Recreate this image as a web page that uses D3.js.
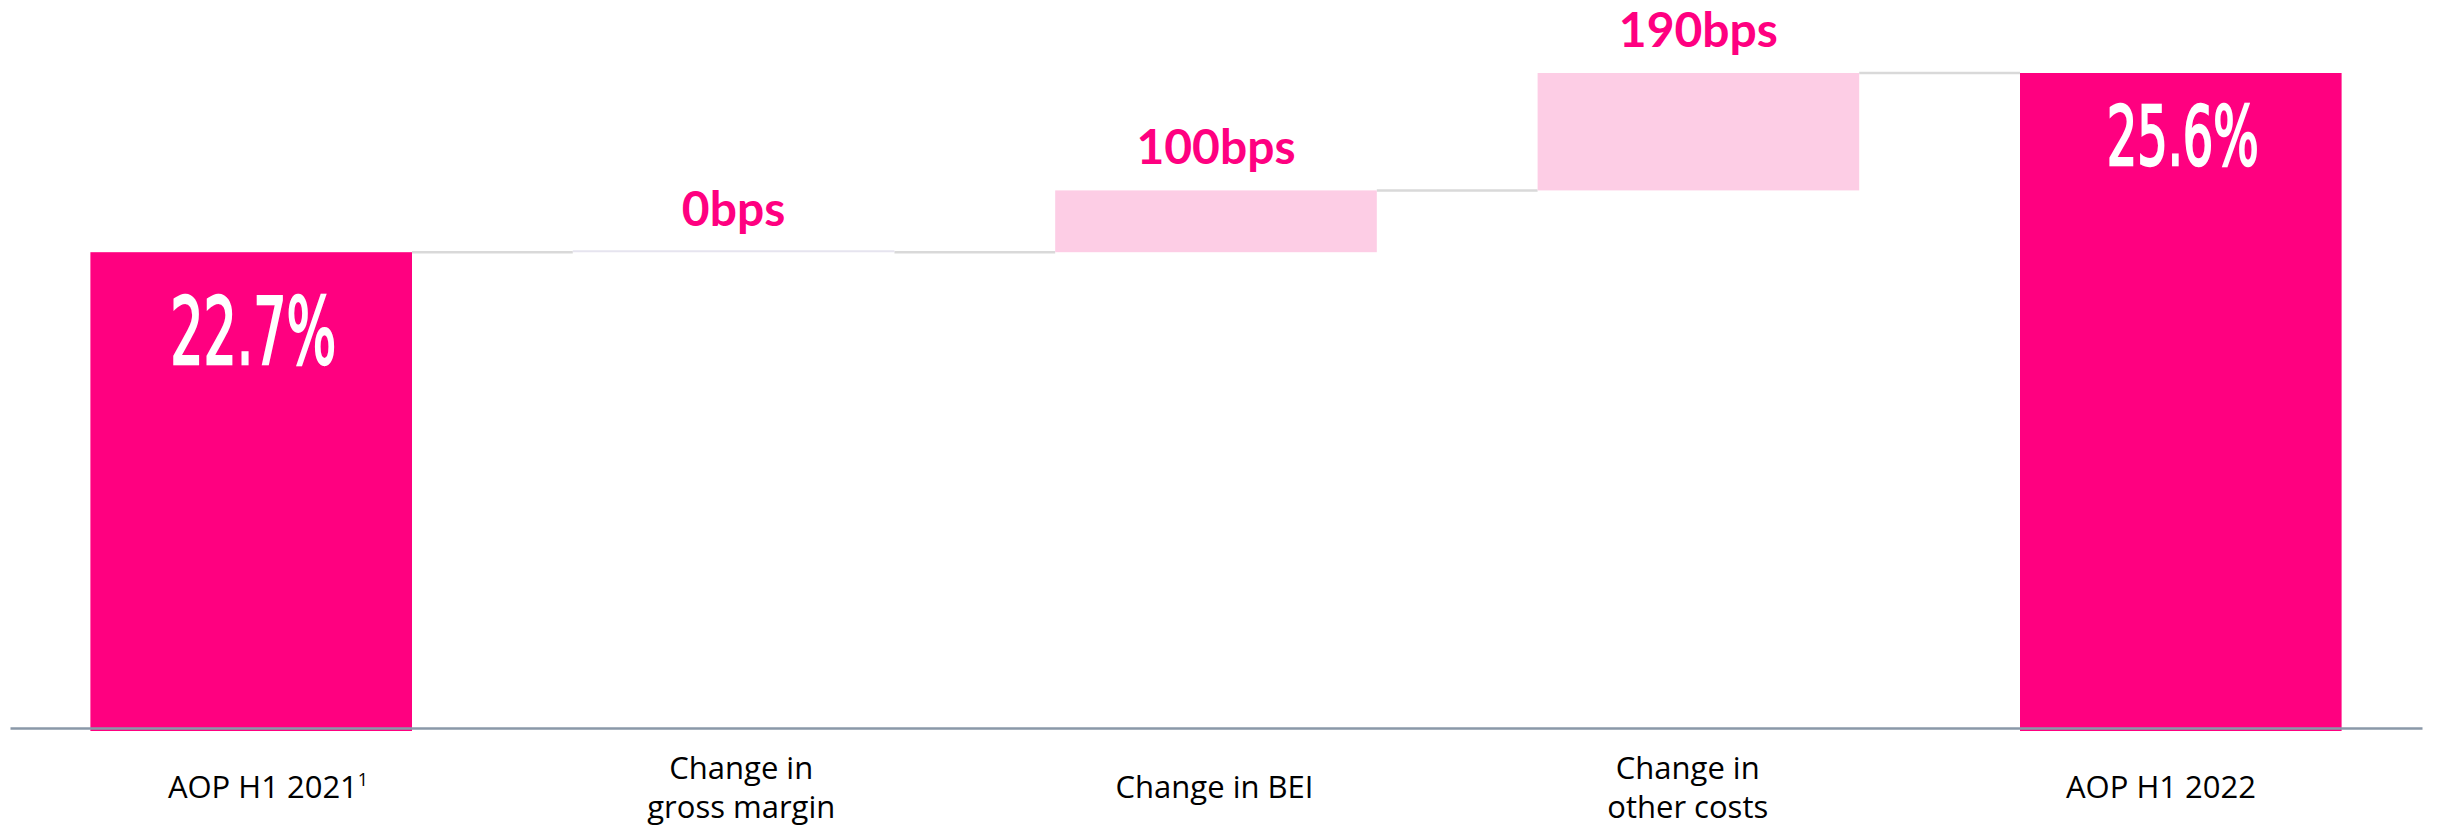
<!DOCTYPE html>
<html>
<head>
<meta charset="utf-8">
<script src="https://cdn.jsdelivr.net/npm/d3@7"></script>
<style>
  html, body { margin: 0; padding: 0; background: #ffffff; }
  svg { display: block; }
</style>
</head>
<body>
<svg id="chart" width="2438" height="826"></svg>
<script>
// Operating margin bridge, H1 2021 -> H1 2022
const categories = ["AOP H1 2021", "Change in gross margin", "Change in BEI", "Change in other costs", "AOP H1 2022"];
const categoryLines = [["AOP H1 2021"], ["Change in", "gross margin"], ["Change in BEI"], ["Change in", "other costs"], ["AOP H1 2022"]];
const categoryNotes = ["1", "", "", "", ""];
const stepKinds = ["total", "delta", "delta", "delta", "total"];
const stepValues = [22.7, 0.0, 1.0, 1.9, 25.6];   // % for totals, percentage points for deltas
const valueLabels = ["22.7%", "0bps", "100bps", "190bps", "25.6%"];
const axisFloor = 15;                               // value axis starts at 15%

// Build the running bridge (start/end level of each step)
let level = 0;
const steps = categories.map((c, i) => {
  let start, end;
  if (stepKinds[i] === "total") { start = axisFloor; end = stepValues[i]; level = stepValues[i]; }
  else { start = level; end = level + stepValues[i]; level = end; }
  return { cat: c, kind: stepKinds[i], start, end, lines: categoryLines[i], note: categoryNotes[i], label: valueLabels[i], i };
});

const svg = d3.select("#chart");
const MAGENTA = "#ff0080";
const LIGHT_PINK = "#fdcde5";

const x = d3.scaleBand()
  .domain(categories)
  .range([10, 2422])
  .paddingInner(1 / 3)
  .paddingOuter(1 / 6);

// Category captions sit in their own evenly spaced slots
const xLabel = d3.scalePoint()
  .domain(categories)
  .range([268, 2161]);

const y = d3.scaleLinear()
  .domain([axisFloor, 25.6])
  .range([728, 73]);

// Connectors between consecutive steps
const connectors = steps.slice(0, -1).map((s, i) => ({ from: s, to: steps[i + 1], v: s.end }));
svg.append("g").selectAll("line").data(connectors).join("line")
  .attr("x1", d => x(d.from.cat) + x.bandwidth())
  .attr("x2", d => x(d.to.cat))
  .attr("y1", d => y(d.v))
  .attr("y2", d => y(d.v))
  .attr("stroke", "#d9d9d9")
  .attr("stroke-width", 2.5);

// Bars
const bars = svg.append("g");
bars.selectAll("rect").data(steps).join("rect")
  .attr("x", d => x(d.cat))
  .attr("width", x.bandwidth())
  .attr("y", d => y(Math.max(d.start, d.end)))
  .attr("height", d => {
    const h = Math.abs(y(d.start) - y(d.end));
    return d.kind === "total" ? h + 3 : h;
  })
  .attr("fill", d => d.kind === "total" ? MAGENTA : LIGHT_PINK);

// Zero-size steps still show as a hairline
bars.selectAll("line.flat").data(steps.filter(d => d.kind === "delta" && d.start === d.end)).join("line")
  .attr("class", "flat")
  .attr("x1", d => x(d.cat))
  .attr("x2", d => x(d.cat) + x.bandwidth())
  .attr("y1", d => y(d.end) - 1)
  .attr("y2", d => y(d.end) - 1)
  .attr("stroke", "#e6e4ef")
  .attr("stroke-width", 2);

// Category axis (baseline only; labels drawn below)
const axis = svg.append("g")
  .attr("transform", `translate(0,${y(axisFloor)})`)
  .call(d3.axisBottom(x).tickSize(0).tickSizeOuter(0).tickFormat(""));
axis.select(".domain").attr("stroke", "#8a98a8").attr("stroke-width", 2.5);

// Category labels, one text per line, centred around one baseline
const labelG = svg.append("g")
  .attr("font-family", "'Open Sans', 'Noto Sans', sans-serif")
  .attr("font-size", 31)
  .attr("fill", "#000000")
  .attr("text-anchor", "middle");
const lineGap = 39;
const centreBaseline = 798;
steps.forEach(d => {
  const cx = xLabel(d.cat);
  const top = centreBaseline - (d.lines.length - 1) * lineGap / 2;
  d.lines.forEach((ln, k) => {
    const t = labelG.append("text")
      .attr("x", cx)
      .attr("y", top + k * lineGap)
      .text(ln);
    if (d.note && k === d.lines.length - 1) {
      t.append("tspan")
        .attr("font-size", 18)
        .attr("dy", -12)
        .text(d.note);
    }
  });
});

// Total labels inside the bars
const totalStyle = { 0: { size: 93, drop: 112, width: 166 }, 4: { size: 82, drop: 92, width: 152 } };
svg.append("g").selectAll("text").data(steps.filter(d => d.kind === "total")).join("text")
  .attr("x", d => x(d.cat) + x.bandwidth() / 2 + 2)
  .attr("y", d => y(d.end) + totalStyle[d.i].drop)
  .attr("text-anchor", "middle")
  .attr("font-family", "'Liberation Sans Narrow', 'DejaVu Sans Condensed', 'Liberation Sans', sans-serif")
  .attr("font-weight", "normal")
  .attr("font-size", d => totalStyle[d.i].size)
  .attr("textLength", d => totalStyle[d.i].width)
  .attr("lengthAdjust", "spacingAndGlyphs")
  .attr("fill", "#ffffff")
  .attr("stroke", "#ffffff")
  .attr("stroke-width", 2.5)
  .text(d => d.label);

// Delta labels above the steps
svg.append("g").selectAll("text").data(steps.filter(d => d.kind === "delta")).join("text")
  .attr("x", d => x(d.cat) + x.bandwidth() / 2)
  .attr("y", d => y(Math.max(d.start, d.end)) - 26)
  .attr("text-anchor", "middle")
  .attr("font-family", "Lato, 'Open Sans', sans-serif")
  .attr("font-weight", "bold")
  .attr("font-size", 48)
  .attr("fill", MAGENTA)
  .text(d => d.label);
</script>
</body>
</html>
